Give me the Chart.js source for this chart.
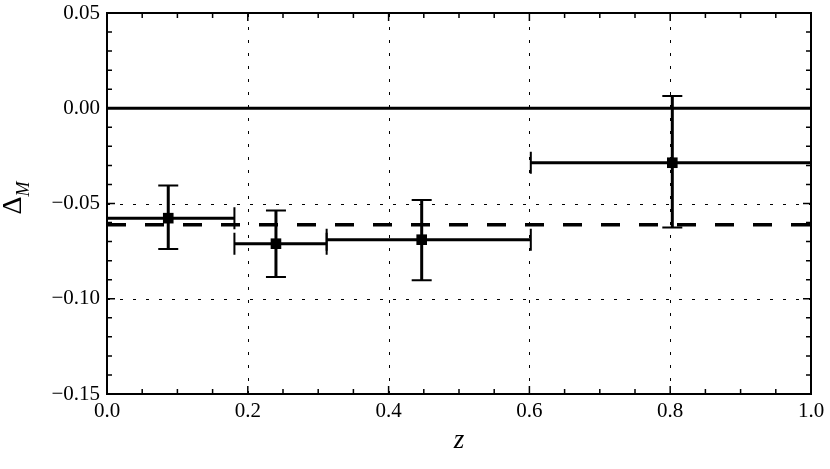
<!DOCTYPE html>
<html>
<head>
<meta charset="utf-8">
<script src="https://cdn.jsdelivr.net/npm/chart.js@4.4.0/dist/chart.umd.min.js"></script>
<style>
  html, body { margin: 0; padding: 0; background: #fff; }
  #wrap { width: 830px; height: 469px; }
</style>
</head>
<body>
<div id="wrap"><canvas id="deltaChart"></canvas></div>
<script>
// bins in redshift
const zMid   = [0.087, 0.240, 0.447, 0.803];
const zLo    = [0.000, 0.181, 0.312, 0.602];
const zHi    = [0.181, 0.312, 0.602, 1.000];
// Delta_M and its errors
const deltaM = [-0.0577, -0.0711, -0.0690, -0.0286];
const errLo  = [-0.0739, -0.0886, -0.0903, -0.0626];
const errHi  = [-0.0406, -0.0537, -0.0481, 0.0064];
// reference lines
const zeroLine = 0.0;
const fitLine = -0.0612;

const xTicks = [0.0, 0.2, 0.4, 0.6, 0.8, 1.0];
const xTickLabels = ['0.0', '0.2', '0.4', '0.6', '0.8', '1.0'];
const yTicks = [-0.15, -0.10, -0.05, 0.00, 0.05];
const yTickLabels = ['\u22120.15', '\u22120.10', '\u22120.05', '0.00', '0.05'];
const xMinorStep = 0.05;
const yMinorStep = 0.01;

const serif = '"Liberation Serif", "DejaVu Serif", serif';

// dotted grid, inward ticks, frame, error bars, axis titles
const framePlugin = {
    id: 'framePlugin',
    beforeDatasetsDraw(chart) {
        const ctx = chart.ctx;
        const a = chart.chartArea;
        const xs = chart.scales.x, ys = chart.scales.y;
        ctx.save();
        ctx.strokeStyle = '#000';
        ctx.lineWidth = 1;
        ctx.setLineDash([3, 10]);
        xTicks.forEach(v => {
            const px = Math.round(xs.getPixelForValue(v)) + 0.5;
            ctx.beginPath(); ctx.moveTo(px, a.bottom); ctx.lineTo(px, a.top); ctx.stroke();
        });
        yTicks.forEach(v => {
            const py = Math.round(ys.getPixelForValue(v)) + 0.5;
            ctx.beginPath(); ctx.moveTo(a.left, py); ctx.lineTo(a.right, py); ctx.stroke();
        });
        ctx.setLineDash([]);

        // error bars
        ctx.strokeStyle = '#000';
        for (let i = 0; i < zMid.length; i++) {
            const cx = xs.getPixelForValue(zMid[i]);
            const cy = ys.getPixelForValue(deltaM[i]);
            const x0 = xs.getPixelForValue(zLo[i]);
            const x1 = xs.getPixelForValue(zHi[i]);
            const y0 = ys.getPixelForValue(errLo[i]);
            const y1 = ys.getPixelForValue(errHi[i]);
            ctx.lineWidth = 3;
            ctx.beginPath();
            ctx.moveTo(x0, cy); ctx.lineTo(x1, cy);
            ctx.moveTo(cx, y0); ctx.lineTo(cx, y1);
            ctx.stroke();
            ctx.lineWidth = 2;
            ctx.beginPath();
            ctx.moveTo(x0, cy - 11); ctx.lineTo(x0, cy + 11);
            ctx.moveTo(x1, cy - 11); ctx.lineTo(x1, cy + 11);
            ctx.moveTo(cx - 10, y0); ctx.lineTo(cx + 10, y0);
            ctx.moveTo(cx - 10, y1); ctx.lineTo(cx + 10, y1);
            ctx.stroke();
        }
        ctx.restore();
    },
    afterDraw(chart) {
        const ctx = chart.ctx;
        const a = chart.chartArea;
        const xs = chart.scales.x, ys = chart.scales.y;
        ctx.save();
        ctx.strokeStyle = '#000';
        ctx.lineWidth = 1.5;
        ctx.beginPath();
        // minor ticks
        for (let v = xs.min; v <= xs.max + 1e-9; v += xMinorStep) {
            const px = xs.getPixelForValue(v);
            ctx.moveTo(px, a.bottom); ctx.lineTo(px, a.bottom - 5);
            ctx.moveTo(px, a.top); ctx.lineTo(px, a.top + 5);
        }
        for (let v = ys.min; v <= ys.max + 1e-9; v += yMinorStep) {
            const py = ys.getPixelForValue(v);
            ctx.moveTo(a.left, py); ctx.lineTo(a.left + 5, py);
            ctx.moveTo(a.right, py); ctx.lineTo(a.right - 5, py);
        }
        // major ticks
        xTicks.forEach(v => {
            const px = xs.getPixelForValue(v);
            ctx.moveTo(px, a.bottom); ctx.lineTo(px, a.bottom - 8);
            ctx.moveTo(px, a.top); ctx.lineTo(px, a.top + 8);
        });
        yTicks.forEach(v => {
            const py = ys.getPixelForValue(v);
            ctx.moveTo(a.left, py); ctx.lineTo(a.left + 8, py);
            ctx.moveTo(a.right, py); ctx.lineTo(a.right - 8, py);
        });
        ctx.stroke();

        // frame
        ctx.lineWidth = 2;
        ctx.strokeRect(a.left, a.top, a.right - a.left, a.bottom - a.top);

        // axis titles
        ctx.fillStyle = '#000';
        ctx.font = 'italic 27px ' + serif;
        ctx.textAlign = 'center';
        ctx.textBaseline = 'alphabetic';
        ctx.fillText('z', (a.left + a.right) / 2, 448);

        ctx.translate(21, 198);
        ctx.rotate(-Math.PI / 2);
        ctx.textAlign = 'left';
        ctx.font = '28px ' + serif;
        const dw = ctx.measureText('\u0394').width;
        ctx.font = 'italic 18px ' + serif;
        const mw = ctx.measureText('M').width;
        const startX = -(dw + mw) / 2;
        ctx.font = '28px ' + serif;
        ctx.fillText('\u0394', startX, 0);
        ctx.font = 'italic 18px ' + serif;
        ctx.fillText('M', startX + dw, 8);
        ctx.restore();
    }
};

const ctx = document.getElementById('deltaChart').getContext('2d');
const deltaChart = new Chart(ctx, {
    type: 'scatter',
    data: {
        datasets: [
            {
                type: 'line',
                data: [{ x: 0, y: zeroLine }, { x: 1, y: zeroLine }],
                borderColor: '#000',
                borderWidth: 3,
                pointRadius: 0
            },
            {
                type: 'line',
                data: [{ x: 0, y: fitLine }, { x: 1, y: fitLine }],
                borderColor: '#000',
                borderWidth: 3.5,
                borderDash: [19, 19],
                pointRadius: 0
            },
            {
                data: zMid.map((z, i) => ({ x: z, y: deltaM[i] })),
                pointStyle: 'rect',
                pointRadius: 7.5,
                backgroundColor: '#000',
                borderColor: '#000',
                borderWidth: 0
            }
        ]
    },
    options: {
        responsive: true,
        maintainAspectRatio: false,
        animation: false,
        layout: { padding: { left: 0, right: 19, top: 13, bottom: 0 } },
        plugins: { legend: { display: false }, tooltip: { enabled: false } },
        scales: {
            x: {
                type: 'linear',
                min: 0, max: 1,
                afterFit: s => { s.height = 75; s.paddingLeft = 0; s.paddingRight = 0; },
                afterBuildTicks: s => { s.ticks = xTicks.map(v => ({ value: v })); },
                grid: { display: false, drawTicks: false },
                border: { display: false },
                ticks: {
                    padding: 5,
                    color: '#000',
                    font: { family: serif, size: 21 },
                    callback: (v, i) => xTickLabels[i]
                }
            },
            y: {
                type: 'linear',
                min: -0.15, max: 0.05,
                afterFit: s => { s.width = 107; s.paddingTop = 0; s.paddingBottom = 0; },
                afterBuildTicks: s => { s.ticks = yTicks.map(v => ({ value: v })); },
                grid: { display: false, drawTicks: false },
                border: { display: false },
                ticks: {
                    padding: 7,
                    color: '#000',
                    font: { family: serif, size: 21 },
                    callback: (v, i) => yTickLabels[i]
                }
            }
        }
    },
    plugins: [framePlugin]
});
</script>
</body>
</html>
